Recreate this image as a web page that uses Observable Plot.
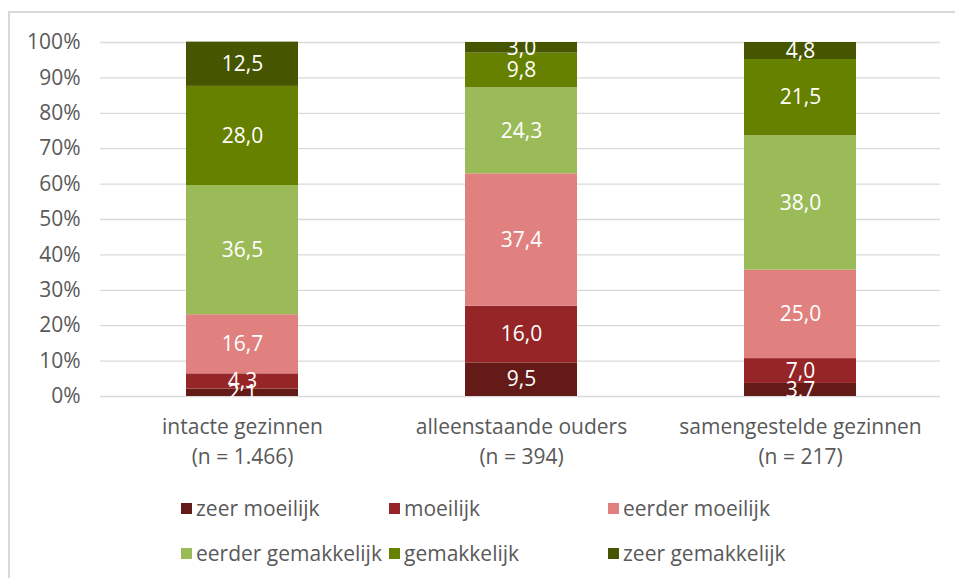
<!DOCTYPE html>
<html>
<head>
<meta charset="utf-8">
<script src="https://cdn.jsdelivr.net/npm/d3@7"></script>
<script src="https://cdn.jsdelivr.net/npm/@observablehq/plot@0.6"></script>
<style>
  html, body { margin: 0; padding: 0; background: #fff; }
  body { width: 955px; height: 578px; position: relative; overflow: hidden; font-family: "Open Sans", sans-serif; }
  #frame { position: absolute; left: 8px; top: 11px; width: 1000px; height: 700px; border-left: 2px solid #d9d9d9; border-top: 2px solid #d9d9d9; box-sizing: border-box; }
  #chart { position: absolute; left: 0; top: 0; }
  .leg { position: absolute; font-size: 21px; color: #595959; white-space: nowrap; line-height: 22px; height: 22px; }
  .leg span.sw { position: absolute; left: 0; top: 6px; width: 11px; height: 11px; }
  .leg span.tx { position: absolute; top: 0; }
</style>
</head>
<body>
<div id="frame"></div>
<div id="chart"></div>
<div id="legend"></div>
<script>
const categories = ["intacte gezinnen\n(n = 1.466)", "alleenstaande ouders\n(n = 394)", "samengestelde gezinnen\n(n = 217)"];
const seriesNames = ["zeer moeilijk", "moeilijk", "eerder moeilijk", "eerder gemakkelijk", "gemakkelijk", "zeer gemakkelijk"];
const seriesColors = ["#641a17", "#962527", "#e08180", "#9bbb59", "#668000", "#465600"];
const zeerMoeilijk = [2.1, 9.5, 3.7];
const moeilijk = [4.3, 16.0, 7.0];
const eerderMoeilijk = [16.7, 37.4, 25.0];
const eerderGemakkelijk = [36.5, 24.3, 38.0];
const gemakkelijk = [28.0, 9.8, 21.5];
const zeerGemakkelijk = [12.5, 3.0, 4.8];
const yTicks = [0, 10, 20, 30, 40, 50, 60, 70, 80, 90, 100];

const seriesValues = [zeerMoeilijk, moeilijk, eerderMoeilijk, eerderGemakkelijk, gemakkelijk, zeerGemakkelijk];
const data = [];
seriesNames.forEach((s, si) => {
  categories.forEach((c, ci) => {
    data.push({cat: c, series: s, value: seriesValues[si][ci]});
  });
});
const fmt = v => v.toFixed(1).replace(".", ",");

const plot = Plot.plot({
  width: 955,
  height: 480,
  marginTop: 42,
  marginBottom: 84,
  marginLeft: 102,
  marginRight: 15,
  style: {fontFamily: "Open Sans, sans-serif", fontSize: "21px", color: "#595959", background: "transparent"},
  x: {domain: categories, paddingInner: 0.6, paddingOuter: 0.3, label: null},
  y: {domain: [0, 100], label: null},
  color: {domain: seriesNames, range: seriesColors},
  marks: [
    Plot.ruleY(yTicks, {stroke: "#d9d9d9", strokeWidth: 1.3}),
    Plot.axisY({ticks: yTicks, tickSize: 0, tickPadding: 22, tickFormat: d => d + "%", label: null, fontSize: 21, fill: "#595959"}),
    Plot.axisX({tickSize: 0, tickPadding: 16, label: null, lineHeight: 1.43, fontSize: 21, fill: "#595959"}),
    Plot.barY(data, {x: "cat", y: "value", fill: "series", order: seriesNames}),
    Plot.text(data, Plot.stackY({x: "cat", y: "value", z: "series", order: seriesNames, text: d => fmt(d.value), fill: "white", fontSize: 21}))
  ]
});
document.getElementById("chart").appendChild(plot);
// gridlines span from the axis edge to the right end of the plot area
(function(){
  const rules = plot.querySelectorAll("g[aria-label='rule'] line");
  rules.forEach(l => { l.setAttribute("x1", 100); l.setAttribute("x2", 940); });
})();

const legendItems = [
  {name: seriesNames[0], color: seriesColors[0], sx: 181, tx: 196, y: 497},
  {name: seriesNames[1], color: seriesColors[1], sx: 389, tx: 404, y: 497},
  {name: seriesNames[2], color: seriesColors[2], sx: 608, tx: 623, y: 497},
  {name: seriesNames[3], color: seriesColors[3], sx: 181, tx: 196, y: 542},
  {name: seriesNames[4], color: seriesColors[4], sx: 389, tx: 404, y: 542},
  {name: seriesNames[5], color: seriesColors[5], sx: 608, tx: 623, y: 542}
];
const leg = document.getElementById("legend");
legendItems.forEach(it => {
  const d = document.createElement("div");
  d.className = "leg";
  d.style.left = it.sx + "px";
  d.style.top = it.y + "px";
  d.innerHTML = `<span class="sw" style="background:${it.color}"></span><span class="tx" style="left:${it.tx - it.sx}px">${it.name}</span>`;
  leg.appendChild(d);
});
</script>
</body>
</html>
